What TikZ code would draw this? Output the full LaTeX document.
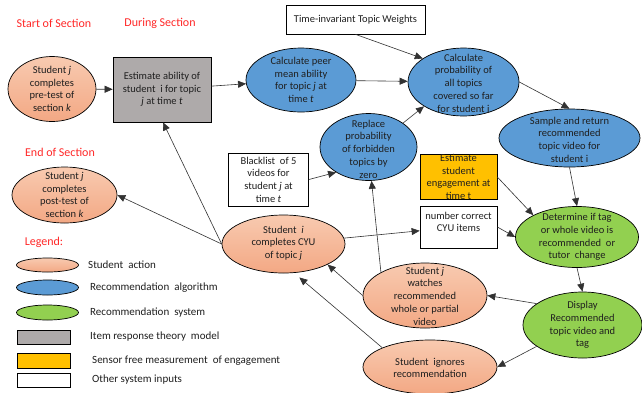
\documentclass[tikz,border=0pt]{standalone}
\usepackage{fontspec}
\setmainfont{Carlito}
\usetikzlibrary{shapes.geometric,arrows.meta}
\definecolor{salA}{RGB}{248,202,176}
\definecolor{salB}{RGB}{243,168,132}
\definecolor{blu}{RGB}{91,155,213}
\definecolor{grn}{RGB}{146,208,80}
\definecolor{gry}{RGB}{174,170,170}
\definecolor{org}{RGB}{255,192,0}
\definecolor{hdr}{RGB}{255,40,40}
\definecolor{ln}{RGB}{50,50,50}
\tikzset{
 base/.style={draw=black, line width=0.7pt, inner sep=0pt},
 elA/.style={base, ellipse, top color=salA, bottom color=salB},
 elB/.style={base, ellipse, fill=blu},
 elG/.style={base, ellipse, fill=grn},
 bxG/.style={base, rectangle, fill=gry},
 bxO/.style={base, rectangle, fill=org},
 bxW/.style={base, rectangle, fill=white},
 txt/.style={align=center, font=\fontsize{10.5}{12.7}\selectfont, text=black!88, inner sep=0pt},
 hd/.style={font=\fontsize{12}{14}\selectfont, text=hdr, inner sep=0pt},
 lg/.style={anchor=west, font=\fontsize{11}{12}\selectfont, text=black!88, inner sep=0pt},
 arr/.style={draw=ln, line width=0.6pt, -{Triangle[length=8pt,width=7pt]}},
}
\begin{document}
\begin{tikzpicture}[x=1pt,y=-1pt]
\useasboundingbox[fill=white] (0,0) rectangle (642,392);

% headings
\node[hd] (h1) at (54,23) {Start of Section};
\node[hd] (h2) at (160,23) {During Section};
\node[hd] (h3) at (60,152) {End of Section};
\node[hd] (h4) at (44,242) {Legend:};

% shapes
\node[elA, minimum width=88pt, minimum height=65pt] (pre) at (52,89) {};
\node[txt] (preT) at (pre) {Student \textit{j}\\completes\\pre-test of\\section \textit{k}};

\node[bxG, minimum width=98pt, minimum height=65pt] (est) at (162,89.5) {};
\node[txt] (estT) at (est) {Estimate ability of\\student~ i for topic\\\textit{j} at time \textit{t}};

\node[elB, minimum width=110pt, minimum height=64pt] (peer) at (301,80) {};
\node[txt] (peerT) at (peer) {Calculate peer\\mean ability\\for topic \textit{j} at\\time \textit{t}};

\node[bxW, minimum width=139pt, minimum height=29pt] (tiw) at (355.5,19.5) {};
\node[txt] (tiwT) at (tiw) {Time-invariant Topic Weights};

\node[elB, minimum width=111pt, minimum height=68pt] (prob) at (463.5,82) {};
\node[txt] (probT) at (463.5,83) {Calculate\\probability of\\all topics\\covered so far\\for student i};

\node[elB, minimum width=141pt, minimum height=58pt] (samp) at (569.5,138) {};
\node[txt] (sampT) at (569.5,139.5) {Sample and return\\recommended\\topic video for\\student i};

\node[elA, minimum width=105pt, minimum height=56pt] (post) at (64.5,195) {};
\node[txt] (postT) at (post) {Student \textit{j}\\completes\\post-test of\\section \textit{k}};

\node[elB, minimum width=97pt, minimum height=67pt] (repl) at (368.5,147) {};
\node[txt] (replT) at (368.5,149) {Replace\\probability\\of forbidden\\topics by\\zero};

\node[bxW, minimum width=80pt, minimum height=53pt] (bl) at (268.5,179.5) {};
\node[txt] (blT) at (bl) {Blacklist~ of 5\\videos for\\student \textit{j} at\\time \textit{t}};

\node[bxO, minimum width=77pt, minimum height=45pt] (eng) at (458.5,177) {};
\node[txt] (engT) at (eng) {Estimate\\student\\engagement at\\time t};

\node[bxW, minimum width=77pt, minimum height=42pt] (num) at (458.5,227) {};
\node[txt] (numT) at (458.5,222) {number correct\\CYU items};

\node[elG, minimum width=123pt, minimum height=61pt] (det) at (577,237) {};
\node[txt] (detT) at (det) {Determine if tag\\or whole video is\\recommended~ or\\tutor~ change};

\node[elA, minimum width=123pt, minimum height=58pt] (cyu) at (283.5,244) {};
\node[txt] (cyuT) at (283.5,243) {Student~ \textit{i}\\completes CYU\\of topic \textit{j}};

\node[elA, minimum width=124pt, minimum height=65pt] (wat) at (425,295.5) {};
\node[txt] (watT) at (425,296) {Student \textit{j}\\watches\\recommended\\whole or partial\\video};

\node[elG, minimum width=119pt, minimum height=66pt] (disp) at (582.5,325) {};
\node[txt] (dispT) at (disp) {Display\\Recommended\\topic video and\\tag};

\node[elA, minimum width=134pt, minimum height=54pt] (ign) at (430,367) {};
\node[txt] (ignT) at (430,368) {Student~ ignores\\recommendation};

% legend
\node[elA, minimum width=62pt, minimum height=14pt] (l1) at (47.5,265) {};
\node[lg] (l1T) at (88,265) {Student~ action};
\node[elB, minimum width=62pt, minimum height=15pt] (l2) at (47.5,287.5) {};
\node[lg] (l2T) at (90,287.5) {Recommendation~ algorithm};
\node[elG, minimum width=62pt, minimum height=15pt] (l3) at (47.5,312.5) {};
\node[lg] (l3T) at (90,312.5) {Recommendation~ system};
\node[bxG, minimum width=53pt, minimum height=14pt] (l4) at (43.5,337) {};
\node[lg] (l4T) at (90,337) {Item response theory~ model};
\node[bxO, minimum width=53pt, minimum height=15pt] (l5) at (43.5,360.5) {};
\node[lg] (l5T) at (92,360.5) {Sensor free measurement~ of engagement};
\node[bxW, minimum width=53pt, minimum height=14pt] (l6) at (43.5,380) {};
\node[lg] (l6T) at (92,380) {Other system inputs};

% connectors
\draw[arr] (pre) -- (est);
\draw[arr] (est) -- (peer);
\draw[arr] (peer) -- (prob);
\draw[arr] (tiw.south) -- (prob.150);
\draw[arr] (repl.north east) -- (prob.south west);
\draw[arr] (prob.east) -- (samp.north);
\draw[arr] (samp.south) -- (det.north);
\draw[arr] (eng.east) -- (det.north west);
\draw[arr] (num.east) -- (det.west);
\draw[arr] (det.south) -- (disp.north);
\draw[arr] (disp.155) -- (wat.east);
\draw[arr] (disp.205) -- (ign.east);
\draw[arr] (wat.north west) -- ([xshift=3pt]repl.south);
\draw[arr] (wat.west) -- (cyu.335);
\draw[arr, shorten >=7pt] (ign.158) -- (cyu.290);
\draw[arr] (bl.east) -- (repl.218);
\draw[arr] (cyu) -- (num);
\draw[arr] (cyu.west) -- ([xshift=1pt]est.south);
\draw[arr] (cyu.west) -- (post.east);
\end{tikzpicture}
\end{document}
